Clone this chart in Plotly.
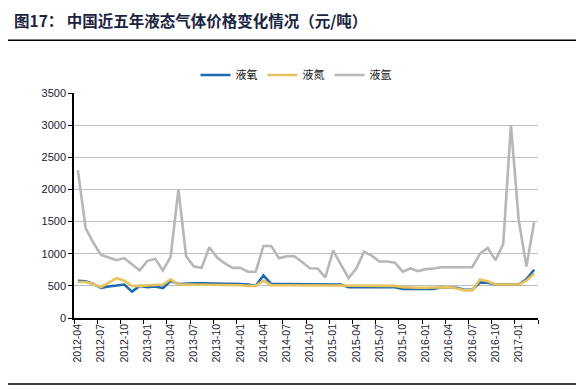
import plotly.graph_objects as go

months = []
y, m = 2012, 4
for _ in range(60):
    months.append(f"{y}-{m:02d}")
    m += 1
    if m > 12:
        m = 1
        y += 1

oxygen = [580, 570, 530, 470, 490, 500, 520, 410, 500, 480, 490, 466,
          580, 530, 540, 540, 540, 540, 540, 530, 530, 530, 520, 500,
          660, 530, 530, 530, 530, 530, 530, 530, 530, 530, 520, 480,
          480, 480, 480, 480, 480, 480, 450, 450, 450, 450, 450, 480,
          480, 470, 440, 440, 550, 550, 520, 520, 520, 520, 600, 750]
nitrogen = [560, 560, 530, 480, 550, 620, 580, 500, 500, 510, 520, 520,
            600, 520, 520, 520, 520, 520, 520, 520, 520, 510, 500, 500,
            580, 510, 510, 510, 510, 510, 510, 510, 510, 510, 505, 500,
            500, 500, 500, 500, 500, 500, 480, 470, 470, 470, 470, 480,
            480, 460, 430, 430, 600, 570, 520, 520, 520, 520, 580, 690]
argon = [2300, 1400, 1170, 980, 940, 900, 930, 840, 740, 890, 920, 740,
         950, 2000, 960, 800, 780, 1100, 940, 850, 780, 780, 720, 720,
         1120, 1120, 930, 960, 960, 870, 775, 770, 630, 1050, 830, 620,
         770, 1030, 970, 880, 880, 860, 720, 770, 730, 760, 770, 790,
         790, 790, 790, 790, 1000, 1090, 900, 1150, 3000, 1530, 800, 1490]

series_names = ["液氧", "液氮", "液氩"]
colors = ["#1F6AAE", "#E6C35C", "#B7B7B7"]

fig = go.Figure()
for name, vals, c in zip(series_names, [oxygen, nitrogen, argon], colors):
    fig.add_trace(go.Scatter(x=months, y=vals, mode="lines", name=name,
                             line=dict(color=c, width=2.6)))

# page is offset by the 8px body margin; work in page pixels and convert
OFF = 8
W, H = 584 - OFF, 390 - OFF
L, R, T, B = 74 - OFF, 538 - OFF, 93 - OFF, 318.3 - OFF
def px2x(px):
    return (px - OFF - L) / (R - L)
def px2y(py):
    return (B - (py - OFF)) / (B - T)

fig.update_layout(
    width=W, height=H,
    margin=dict(l=L, r=W - R, t=T, b=H - B, pad=0, autoexpand=False),
    paper_bgcolor="white", plot_bgcolor="white",
    font=dict(family="Liberation Sans, Arial, sans-serif", size=11, color="#1a1a33"),
    showlegend=True,
    legend=dict(orientation="h", x=px2x(296), xanchor="center", y=px2y(75), yanchor="middle",
                font=dict(family="Noto Sans CJK SC", size=11, color="#111"),
                itemwidth=30, traceorder="normal"),
    xaxis=dict(type="category", tickmode="linear", tick0=0, dtick=3,
               tickson="boundaries", ticks="outside", ticklen=4, tickcolor="black",
               showline=True, linecolor="black", linewidth=1.5,
               tickangle=-90, showgrid=False,
               tickfont=dict(size=10.5, color="#1a1a33"),
               range=[-0.5, 59.5]),
    yaxis=dict(range=[0, 3500], dtick=500, ticks="outside", ticklen=4, tickcolor="black",
               showline=True, linecolor="black", linewidth=1.5,
               showgrid=True, gridcolor="#BFBFBF", gridwidth=1, zeroline=False,
               tickfont=dict(size=11, color="#1a1a33")),
)

fig.add_annotation(xref="paper", yref="paper", x=px2x(13), y=px2y(8),
                   xanchor="left", yanchor="top", showarrow=False,
                   text="<b>图17： 中国近五年液态气体价格变化情况（元/吨）</b>",
                   font=dict(family="Noto Sans CJK SC", size=15.5, color="#1b2440"),
                   borderpad=0)

for ly in (40.3, 384.3):
    fig.add_shape(type="line", xref="paper", yref="paper",
                  x0=px2x(8), x1=px2x(580), y0=px2y(ly), y1=px2y(ly),
                  line=dict(color="black", width=1.5))

fig.write_html("out.html")
